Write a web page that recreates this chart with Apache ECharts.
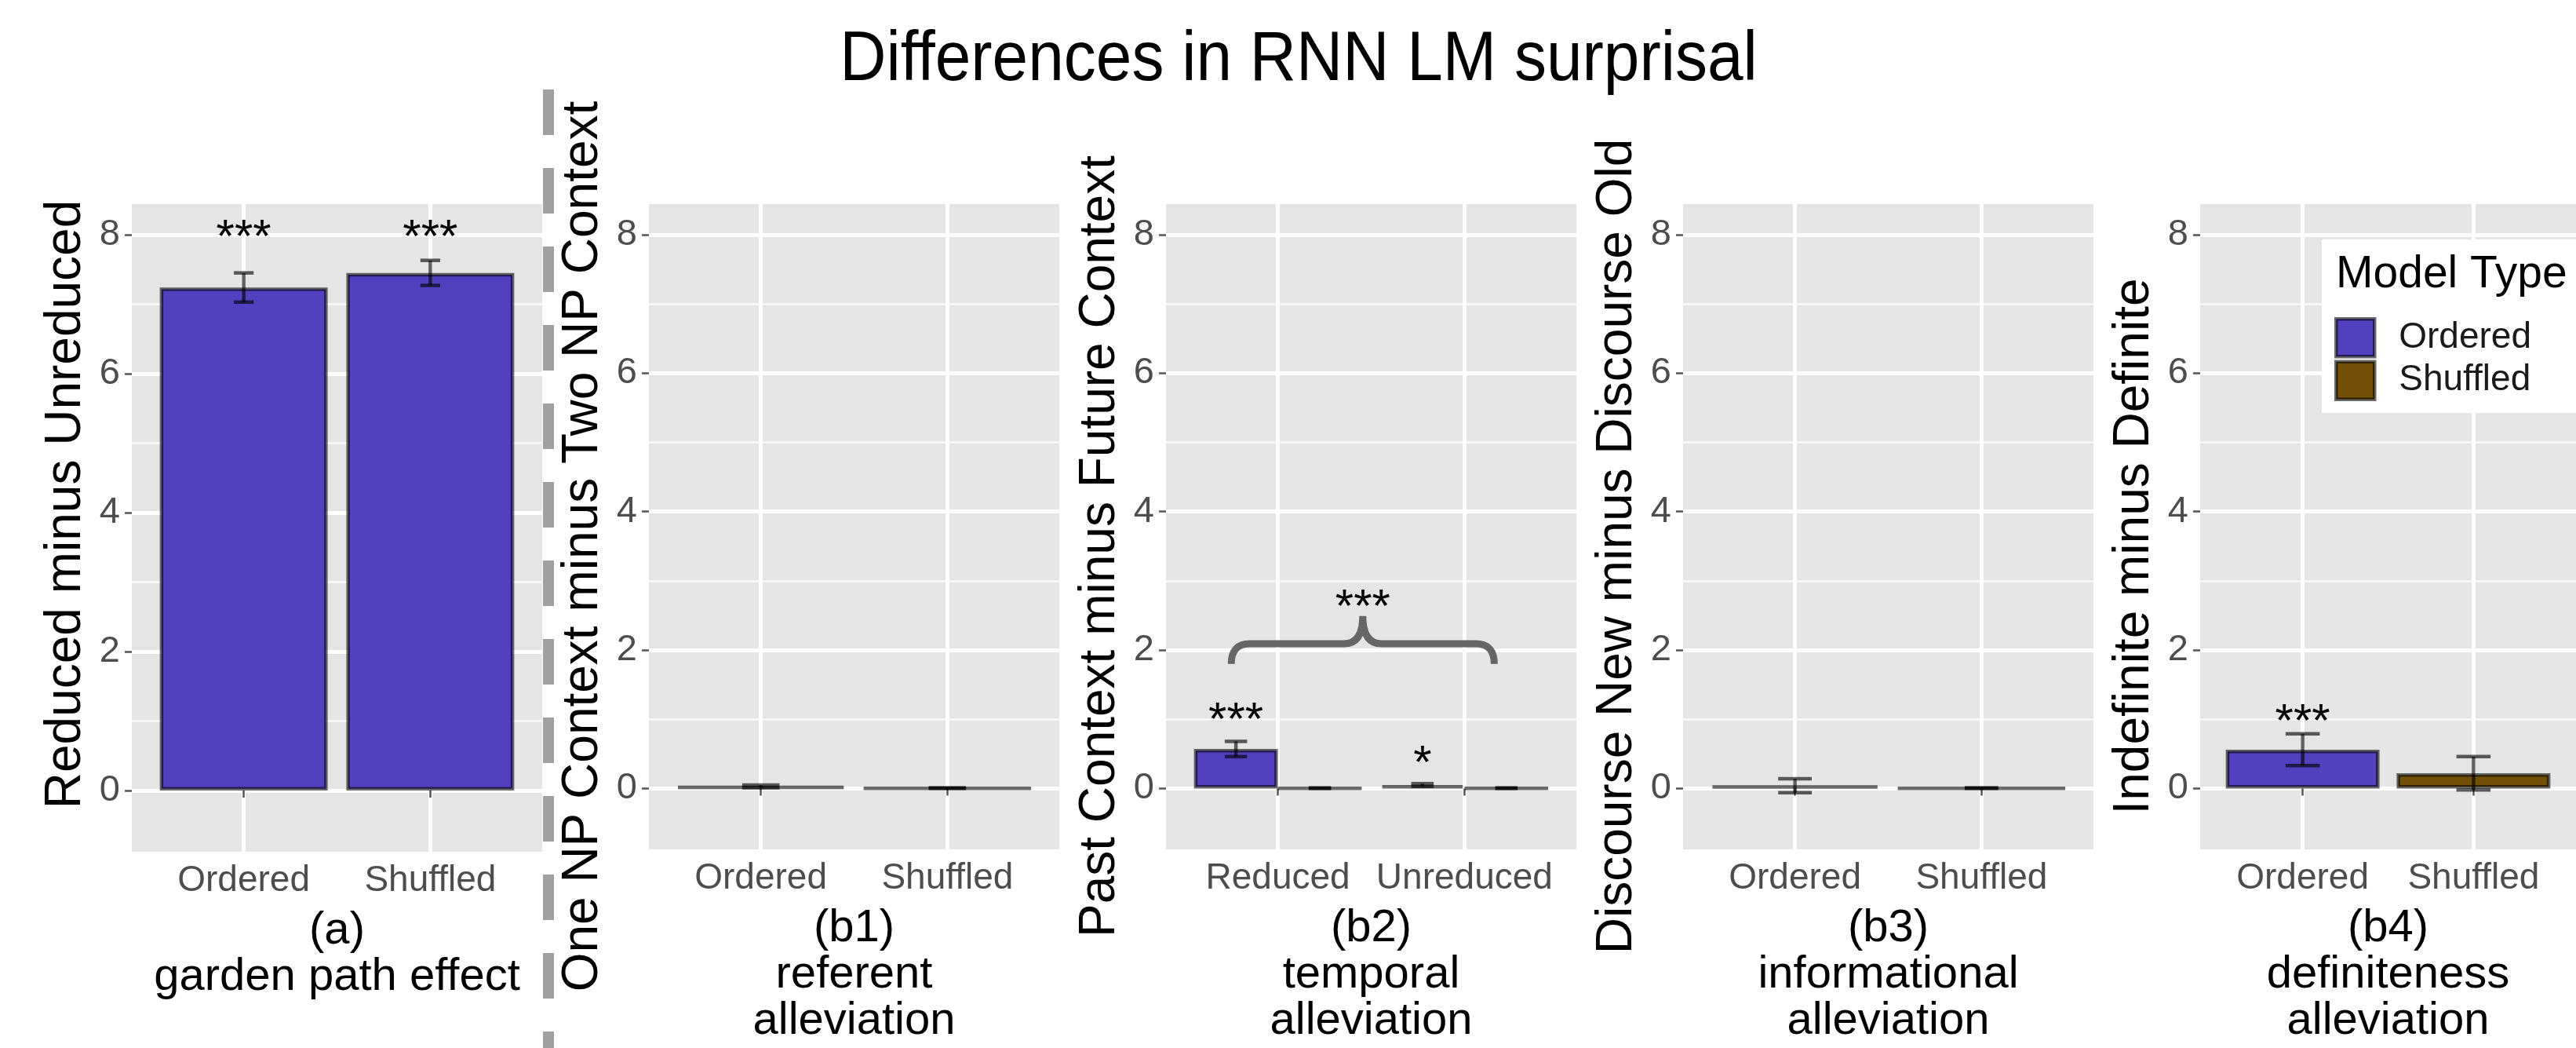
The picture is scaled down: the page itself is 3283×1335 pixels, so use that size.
<!DOCTYPE html>
<html lang="en">
<head>
    <meta charset="UTF-8">
    <title>Differences in RNN LM surprisal</title>
    <script src="https://cdn.jsdelivr.net/npm/echarts@6/dist/echarts.min.js"></script>
    <style>
        body {
            margin: 0;
            background: #ffffff;
        }
        #chart {
            width: 3283px;
            height: 1335px;
        }
    </style>
</head>
<body>
    <div id="chart"></div>

    <script>
        // ---- data ----
        const modelTypes = ['Ordered', 'Shuffled'];

        // (a) garden path effect
        const catsA = ['Ordered', 'Shuffled'];
        const meanA = [7.24, 7.45];
        const errA = [0.21, 0.18];
        const starsA = ['***', '***'];
        const starYA = [8.1, 8.1];

        // (b1) referent alleviation
        const catsB1 = ['Ordered', 'Shuffled'];
        const meanB1 = [0.03, 0.005];
        const errB1 = [0.02, 0.004];

        // (b2) temporal alleviation, dodged by model type
        const catsB2 = ['Reduced', 'Unreduced'];
        const meanB2Ordered = [0.57, 0.05];
        const errB2Ordered = [0.11, 0.02];
        const meanB2Shuffled = [0.005, 0.005];
        const errB2Shuffled = [0.004, 0.004];
        const starsB2 = ['***', '*'];
        const starYB2 = [1.12, 0.5];
        const braceStarB2 = '***';
        const braceStarYB2 = 2.76;

        // (b3) informational alleviation
        const catsB3 = ['Ordered', 'Shuffled'];
        const meanB3 = [0.04, 0.005];
        const errB3 = [0.1, 0.004];

        // (b4) definiteness alleviation
        const catsB4 = ['Ordered', 'Shuffled'];
        const meanB4 = [0.56, 0.22];
        const errB4 = [0.23, 0.24];
        const starsB4 = ['***', ''];
        const starYB4 = [1.1, 1.1];

        const yTicks = [0, 2, 4, 6, 8];

        const yTitles = [
            'Reduced minus Unreduced',
            'One NP Context minus Two NP Context',
            'Past Context minus Future Context',
            'Discourse New minus Discourse Old',
            'Indefinite minus Definite'
        ];
        const xTitles = [
            '(a)\ngarden path effect',
            '(b1)\nreferent\nalleviation',
            '(b2)\ntemporal\nalleviation',
            '(b3)\ninformational\nalleviation',
            '(b4)\ndefiniteness\nalleviation'
        ];

        // ---- style ----
        const FONT = '"Liberation Sans", Arial, sans-serif';
        const BLUE = '#5340BF';
        const BROWN = '#735008';
        const OUTLINE = 'rgba(0,0,0,0.58)';
        const colorOf = { Ordered: BLUE, Shuffled: BROWN };

        // nudges of the rotated y titles along the axis (left pad = up, right pad = down)
        const yTitlePad = [[0, 0, 0, 60], [0, 50, 0, 0], [0, 50, 0, 0], [0, 50, 0, 0], [0, 50, 0, 0]];

        const chart = echarts.init(document.getElementById('chart'));

        const panelCats = [catsA, catsB1, catsB2, catsB3, catsB4];

        const grids = panelCats.map((_, i) => ({
            left: 168 + 659 * i,
            top: 260,
            width: 523,
            height: 825,
            show: true,
            backgroundColor: '#E5E5E5',
            borderWidth: 0
        }));

        const xAxes = panelCats.map((cats, i) => ({
            gridIndex: i,
            type: 'value',
            min: 0.4,
            max: 2.6,
            axisLine: { show: false },
            axisTick: {
                show: true,
                length: 9,
                customValues: [1, 2],
                lineStyle: { color: '#555', width: 2.5 }
            },
            axisLabel: {
                customValues: [1, 2],
                formatter: v => cats[Math.round(v) - 1],
                color: '#4D4D4D',
                fontSize: 46,
                fontFamily: FONT,
                margin: 14
            },
            splitLine: { show: true, lineStyle: { color: '#FFFFFF', width: 5 } },
            name: xTitles[i],
            nameLocation: 'middle',
            nameGap: 71,
            nameTextStyle: {
                color: '#000',
                fontSize: 58,
                lineHeight: 59,
                fontFamily: FONT,
                verticalAlign: 'top'
            }
        }));

        const yAxes = panelCats.map((_, i) => ({
            gridIndex: i,
            type: 'value',
            min: -0.88,
            max: 8.44,
            splitNumber: 5,
            axisLine: { show: false },
            axisTick: {
                show: true,
                length: 9,
                customValues: yTicks,
                lineStyle: { color: '#555', width: 2.5 }
            },
            axisLabel: {
                customValues: yTicks,
                color: '#4D4D4D',
                fontSize: 47,
                fontFamily: FONT,
                margin: 15
            },
            splitLine: { show: true, lineStyle: { color: '#FFFFFF', width: 5 } },
            minorTick: { show: false, splitNumber: 2 },
            minorSplitLine: { show: true, lineStyle: { color: '#FAFAFA', width: 2.5 } },
            name: yTitles[i],
            nameLocation: 'middle',
            nameGap: 52,
            nameRotate: 90,
            nameTextStyle: { color: '#000', fontSize: 64, fontFamily: FONT, padding: yTitlePad[i] }
        }));

        // bars of one panel, one series, colour per bar
        function barSeries(i, name, means, colors) {
            return {
                type: 'bar',
                name: name,
                xAxisIndex: i,
                yAxisIndex: i,
                barWidth: '90%',
                z: 2,
                data: means.map((v, k) => ({
                    value: [k + 1, v],
                    itemStyle: { color: colors[k] }
                })),
                itemStyle: { borderColor: OUTLINE, borderWidth: 4.5 }
            };
        }

        // error bars; capHalf is half the cap width in x units
        function errorSeries(i, xs, means, errs, capHalf) {
            return {
                type: 'custom',
                xAxisIndex: i,
                yAxisIndex: i,
                z: 3,
                silent: true,
                data: xs.map((x, k) => [x, means[k] - errs[k], means[k] + errs[k]]),
                renderItem: (params, api) => {
                    const x = api.value(0);
                    const lo = api.coord([x, api.value(1)]);
                    const hi = api.coord([x, api.value(2)]);
                    const half = api.coord([x + capHalf, 0])[0] - api.coord([x, 0])[0];
                    const style = { stroke: 'rgba(0,0,0,0.62)', lineWidth: 4.5 };
                    return {
                        type: 'group',
                        children: [
                            { type: 'line', shape: { x1: lo[0], y1: lo[1], x2: hi[0], y2: hi[1] }, style },
                            { type: 'line', shape: { x1: hi[0] - half, y1: hi[1], x2: hi[0] + half, y2: hi[1] }, style },
                            { type: 'line', shape: { x1: lo[0] - half, y1: lo[1], x2: lo[0] + half, y2: lo[1] }, style }
                        ]
                    };
                }
            };
        }

        // significance stars, y is the visual centre of the glyphs
        function starSeries(i, xs, ys, labels) {
            return {
                type: 'custom',
                xAxisIndex: i,
                yAxisIndex: i,
                z: 4,
                silent: true,
                data: xs.map((x, k) => [x, ys[k]]),
                renderItem: (params, api) => {
                    const p = api.coord([api.value(0), api.value(1)]);
                    return {
                        type: 'text',
                        x: p[0],
                        y: p[1] + 14,
                        style: {
                            text: labels[params.dataIndex],
                            align: 'center',
                            verticalAlign: 'middle',
                            fill: '#000',
                            fontSize: 60,
                            fontFamily: FONT
                        }
                    };
                }
            };
        }

        // curly brace spanning the b2 bars
        const braceX = [0.75, 2.16];
        const braceY = [1.8, 2.09, 2.49];
        function braceSeries(i) {
            return {
                type: 'custom',
                xAxisIndex: i,
                yAxisIndex: i,
                z: 4,
                silent: true,
                data: [[braceX[0], braceY[0]]],
                renderItem: (params, api) => {
                    const dx = 0.1;
                    const xm = (braceX[0] + braceX[1]) / 2;
                    const c = (x, y) => api.coord([x, y]).join(' ');
                    const [yEnd, yBar, yTip] = braceY;
                    const d = 'M' + c(braceX[0], yEnd) +
                        ' Q' + c(braceX[0], yBar) + ' ' + c(braceX[0] + dx, yBar) +
                        ' L' + c(xm - dx, yBar) +
                        ' Q' + c(xm, yBar) + ' ' + c(xm, yTip) +
                        ' Q' + c(xm, yBar) + ' ' + c(xm + dx, yBar) +
                        ' L' + c(braceX[1] - dx, yBar) +
                        ' Q' + c(braceX[1], yBar) + ' ' + c(braceX[1], yEnd);
                    return {
                        type: 'path',
                        shape: { pathData: d },
                        style: { stroke: '#666666', lineWidth: 9, fill: null }
                    };
                }
            };
        }

        const xsSingle = [1, 2];
        const dodge = 0.225;
        const xsB2Ordered = catsB2.map((_, k) => k + 1 - dodge);
        const xsB2Shuffled = catsB2.map((_, k) => k + 1 + dodge);

        const series = [
            // (a)
            barSeries(0, 'garden path', meanA, [BLUE, BLUE]),
            errorSeries(0, xsSingle, meanA, errA, 0.053),
            starSeries(0, xsSingle, starYA, starsA),
            // (b1)
            barSeries(1, 'referent', meanB1, [BLUE, BROWN]),
            errorSeries(1, xsSingle, meanB1, errB1, 0.1),
            // (b2)
            {
                type: 'bar',
                name: 'Ordered',
                xAxisIndex: 2,
                yAxisIndex: 2,
                barCategoryGap: '10%',
                barGap: '0%',
                z: 2,
                data: meanB2Ordered.map((v, k) => [k + 1, v]),
                itemStyle: { color: colorOf.Ordered, borderColor: OUTLINE, borderWidth: 4.5 }
            },
            {
                type: 'bar',
                name: 'Shuffled',
                xAxisIndex: 2,
                yAxisIndex: 2,
                barCategoryGap: '10%',
                barGap: '0%',
                z: 2,
                data: meanB2Shuffled.map((v, k) => [k + 1, v]),
                itemStyle: { color: colorOf.Shuffled, borderColor: OUTLINE, borderWidth: 4.5 }
            },
            errorSeries(2, xsB2Ordered, meanB2Ordered, errB2Ordered, 0.06),
            errorSeries(2, xsB2Shuffled, meanB2Shuffled, errB2Shuffled, 0.06),
            starSeries(2, xsB2Ordered, starYB2, starsB2),
            braceSeries(2),
            starSeries(2, [(braceX[0] + braceX[1]) / 2], [braceStarYB2], [braceStarB2]),
            // (b3)
            barSeries(3, 'informational', meanB3, [BLUE, BROWN]),
            errorSeries(3, xsSingle, meanB3, errB3, 0.09),
            // (b4)
            barSeries(4, 'definiteness', meanB4, [BLUE, BROWN]),
            errorSeries(4, xsSingle, meanB4, errB4, 0.1),
            starSeries(4, xsSingle, starYB4, starsB4)
        ];

        const option = {
            animation: false,
            backgroundColor: '#FFFFFF',
            textStyle: { fontFamily: FONT },
            grid: grids,
            xAxis: xAxes,
            yAxis: yAxes,
            legend: {
                orient: 'vertical',
                left: 2959,
                top: 305,
                padding: [99, 300, 15, 16],
                backgroundColor: '#FFFFFF',
                itemWidth: 49,
                itemHeight: 48,
                itemGap: 2,
                selectedMode: false,
                icon: 'rect',
                textStyle: { fontSize: 46, color: '#1A1A1A', fontFamily: FONT, padding: [0, 0, 0, 26] },
                data: modelTypes.map(m => ({
                    name: m,
                    itemStyle: { color: colorOf[m], borderColor: OUTLINE, borderWidth: 4.5 }
                }))
            },
            graphic: [
                {
                    type: 'text',
                    x: 1655,
                    y: 78,
                    z: 100,
                    scaleY: 1.08,
                    style: {
                        text: 'Differences in RNN LM surprisal',
                        align: 'center',
                        verticalAlign: 'middle',
                        fill: '#000',
                        fontSize: 82,
                        fontFamily: FONT
                    }
                },
                {
                    type: 'text',
                    x: 2977,
                    y: 350,
                    z: 100,
                    style: {
                        text: 'Model Type',
                        align: 'left',
                        verticalAlign: 'middle',
                        fill: '#000',
                        fontSize: 57,
                        fontFamily: FONT
                    }
                },
                {
                    // dashed separator between (a) and the (b) panels
                    type: 'line',
                    z: 100,
                    shape: { x1: 699, y1: 114, x2: 699, y2: 1335 },
                    style: { stroke: '#A0A0A0', lineWidth: 14, lineDash: [58, 42] }
                }
            ],
            series: series
        };

        chart.setOption(option);
    </script>
</body>
</html>
